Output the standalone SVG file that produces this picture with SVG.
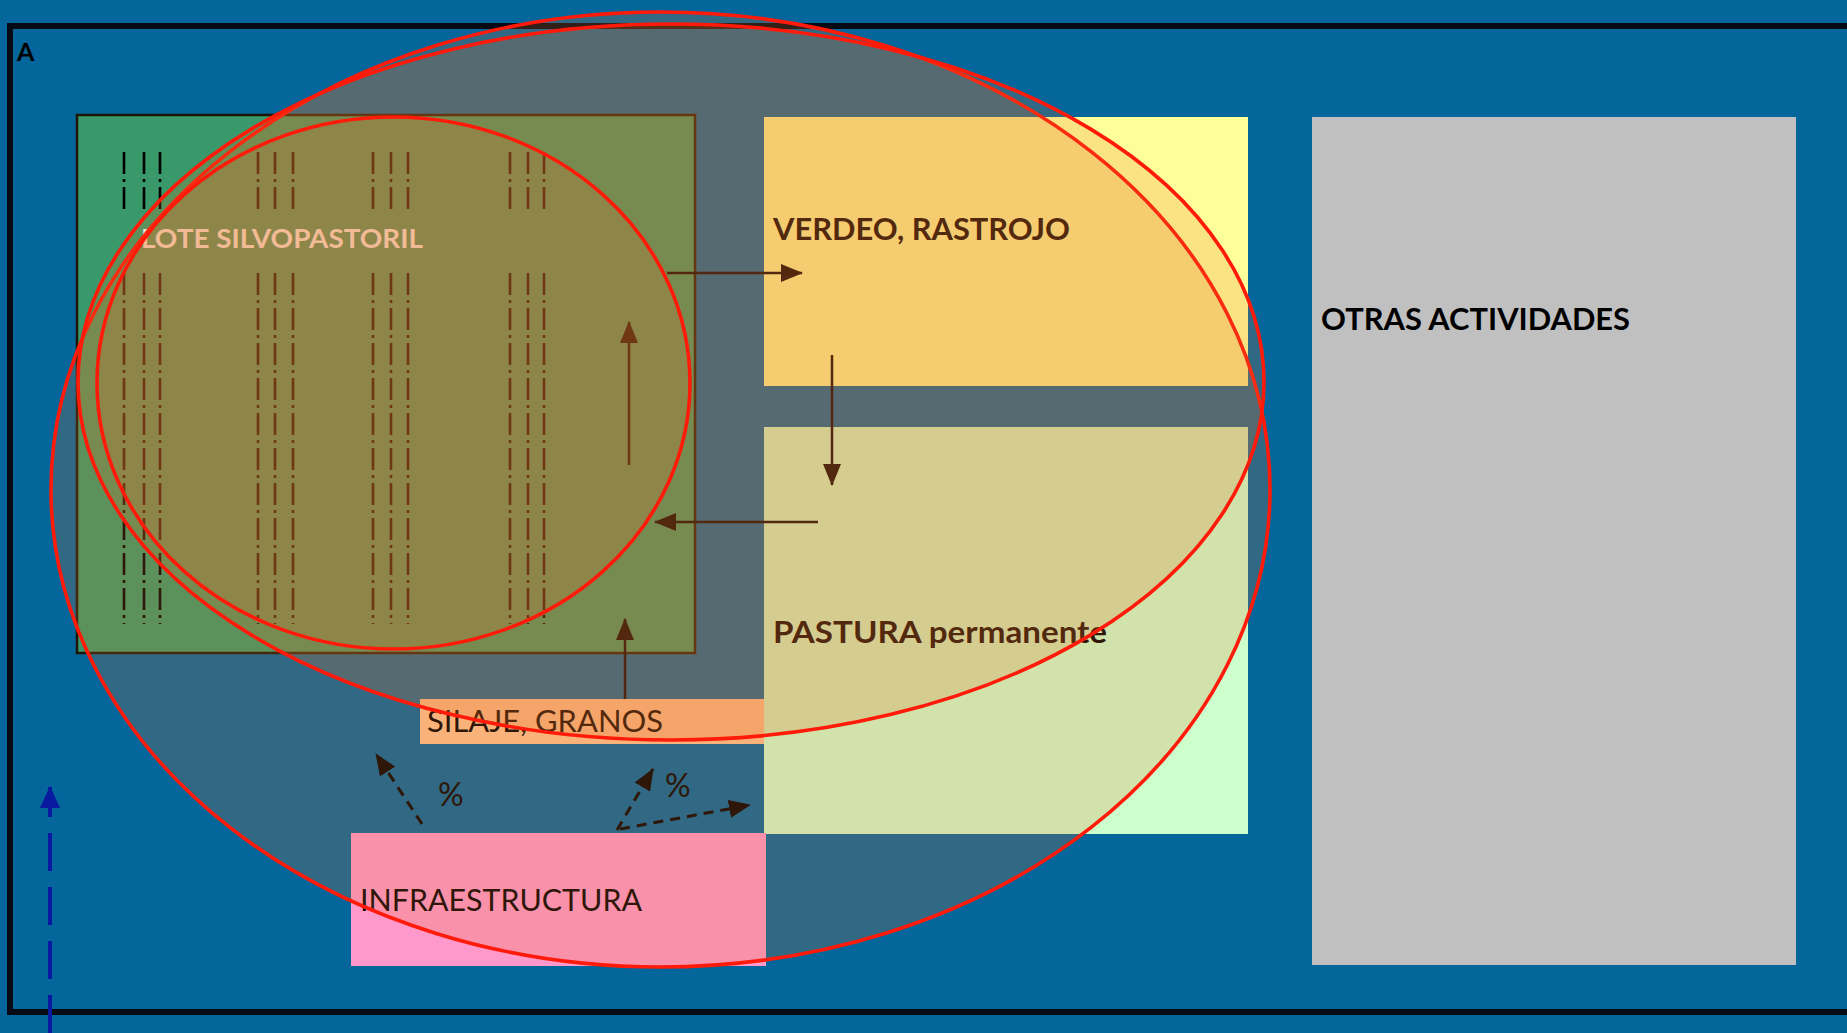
<svg xmlns="http://www.w3.org/2000/svg" width="1847" height="1033" viewBox="0 0 1847 1033">
<defs>
<style>
.t{font-family:Lato,"Open Sans","Liberation Sans",sans-serif;}
.b{font-weight:700}
.tree{stroke:#000;stroke-width:2.6;stroke-dasharray:22 5 3 5;fill:none}
.conn{stroke:#000;stroke-width:2.5;fill:none}
.dash{stroke:#000;stroke-width:3;stroke-dasharray:10 7;fill:none}
.ell{fill:rgb(228,116,40);fill-opacity:0.2;stroke:#FF1A0A;stroke-width:3.6}
</style>
<marker id="ah" markerUnits="userSpaceOnUse" markerWidth="22" markerHeight="18" viewBox="0 0 22 18" refX="21" refY="9" orient="auto">
<path d="M0,0 L22,9 L0,18 z" fill="#000"/>
</marker>
<marker id="ahb" markerUnits="userSpaceOnUse" markerWidth="22" markerHeight="20" viewBox="0 0 22 20" refX="21" refY="10" orient="auto">
<path d="M0,0 L22,10 L0,20 z" fill="#0A1AA0"/>
</marker>
</defs>
<rect x="0" y="0" width="1847" height="1033" fill="#04669B"/>
<rect x="10" y="26" width="1850" height="986" fill="none" stroke="#050A14" stroke-width="6"/>
<text class="t b" x="17" y="61" font-size="25" fill="#000">A</text>

<g id="lote">
<rect x="77" y="115" width="618" height="538" fill="#3A996A" stroke="#1E1405" stroke-width="2.5"/>
<g class="tree">
<path d="M124,152V214M144,152V214M160,152V214M258,152V214M275,152V214M293,152V214M373,152V214M391,152V214M408,152V214M510,152V214M528,152V214M544,152V214"/>
<path d="M124,273V624M144,273V624M160,273V624M258,273V624M275,273V624M293,273V624M373,273V624M391,273V624M408,273V624M510,273V624M528,273V624M544,273V624"/>
</g>
<text class="t b" x="141" y="248" font-size="26" fill="#FFFFFF" textLength="282" lengthAdjust="spacingAndGlyphs">LOTE SILVOPASTORIL</text>
</g>

<g id="verdeo">
<rect x="764" y="117" width="484" height="269" fill="#FFFF99"/>
<text class="t b" x="773" y="240" font-size="30" fill="#000" textLength="297" lengthAdjust="spacingAndGlyphs">VERDEO, RASTROJO</text>
</g>

<g id="pastura">
<rect x="764" y="427" width="484" height="407" fill="#CCFFCC"/>
<text class="t b" x="773" y="643" font-size="30" fill="#000" textLength="334" lengthAdjust="spacingAndGlyphs">PASTURA permanente</text>
</g>

<g id="silaje">
<rect x="420" y="699" width="344" height="45" fill="#FFC290"/>
<text class="t" x="427" y="732" font-size="30" fill="#000" textLength="236" lengthAdjust="spacingAndGlyphs">SILAJE, GRANOS</text>
</g>

<g id="infra">
<rect x="351" y="833" width="415" height="133" fill="#FF99CC"/>
<text class="t" x="360" y="911" font-size="30" fill="#000" textLength="282" lengthAdjust="spacingAndGlyphs">INFRAESTRUCTURA</text>
</g>

<g id="otras">
<rect x="1312" y="117" width="484" height="848" fill="#C0C0C0"/>
<text class="t b" x="1321" y="330" font-size="30" fill="#000" textLength="309" lengthAdjust="spacingAndGlyphs">OTRAS ACTIVIDADES</text>
</g>

<g id="connectors">
<line class="conn" x1="667" y1="273" x2="802" y2="273" marker-end="url(#ah)"/>
<line class="conn" x1="832" y1="355" x2="832" y2="485" marker-end="url(#ah)"/>
<line class="conn" x1="818" y1="522" x2="655" y2="522" marker-end="url(#ah)"/>
<line class="conn" x1="629" y1="465" x2="629" y2="322" marker-end="url(#ah)"/>
<line class="conn" x1="625" y1="699" x2="625" y2="619" marker-end="url(#ah)"/>
<line class="dash" x1="422" y1="824" x2="376" y2="754" marker-end="url(#ah)"/>
<line class="dash" x1="617" y1="830" x2="653" y2="769" marker-end="url(#ah)"/>
<line class="dash" x1="620" y1="829" x2="750" y2="805" marker-end="url(#ah)"/>
<line x1="50" y1="1033" x2="50" y2="787" stroke="#0A1AA0" stroke-width="4" stroke-dasharray="38 16" marker-end="url(#ahb)"/>
<text class="t" x="438" y="806" font-size="32" fill="#000">%</text>
<text class="t" x="665" y="797" font-size="32" fill="#000">%</text>
</g>

<g id="zonas">
<ellipse class="ell" cx="660.5" cy="489.5" rx="609.5" ry="477.5"/>
<ellipse class="ell" cx="671" cy="382" rx="593" ry="358"/>
<ellipse class="ell" cx="393.5" cy="383" rx="296.5" ry="266"/>
</g>
</svg>
